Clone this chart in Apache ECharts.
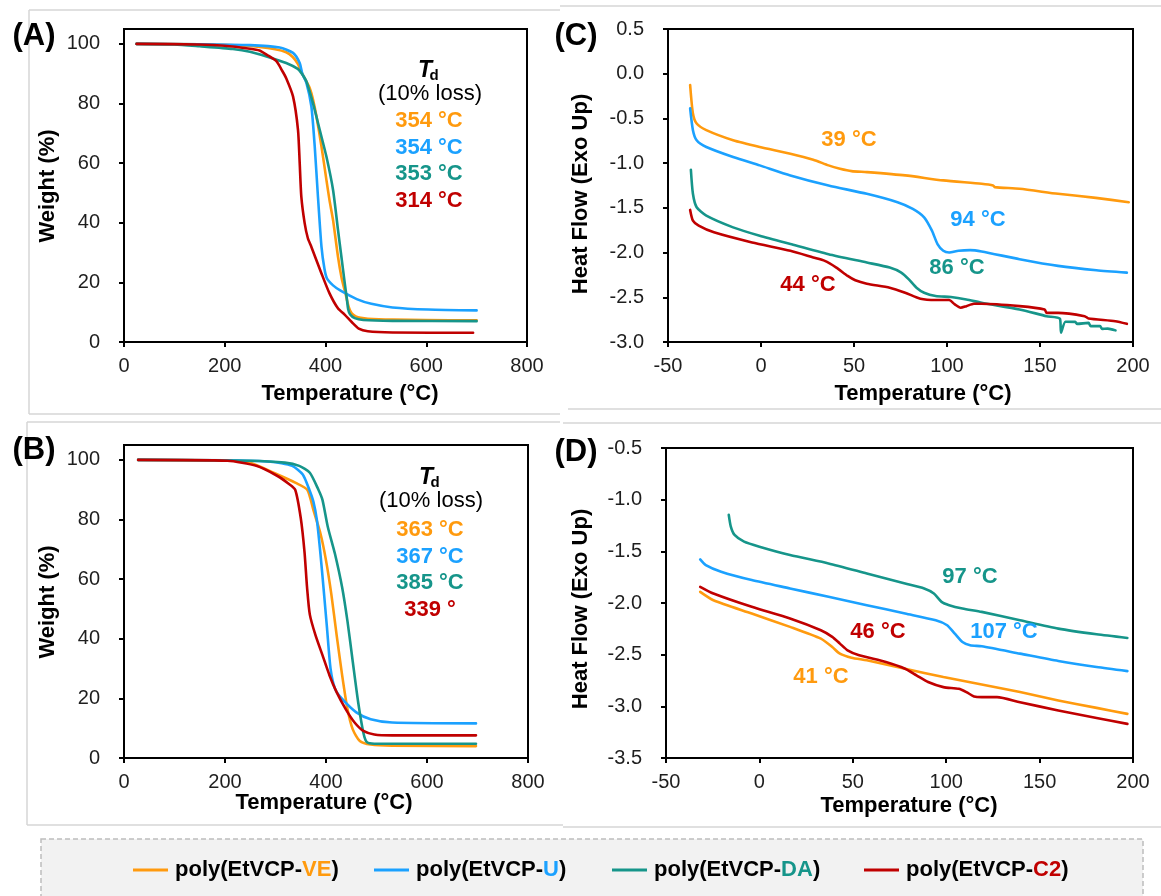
<!DOCTYPE html>
<html>
<head>
<meta charset="utf-8">
<title>TGA / DSC of poly(EtVCP) networks</title>
<script src="https://cdn.jsdelivr.net/npm/echarts@6/dist/echarts.min.js"></script>
<style>
  html, body { margin: 0; padding: 0; background: #fff; }
  #chart { width: 1161px; height: 896px; }
</style>
</head>
<body>
<div id="chart"></div>
<script>
// ---- Series names (legend) ----
const seriesNames = ['poly(EtVCP-VE)', 'poly(EtVCP-U)', 'poly(EtVCP-DA)', 'poly(EtVCP-C2)'];
const seriesTags = ['VE', 'U', 'DA', 'C2'];

// ---- (A) TGA, weight (%) vs temperature (°C) ----
const tgaA_VE = [[25,100],[150,99.9],[250,99.3],[300,98.2],[322,97.2],[335,95.6],[345,93.3],[354,90.0],[362,87.4],[368.6,85.2],[375,81.5],[382,75.7],[392,65.6],[401.8,54.4],[408,47.5],[415,40.9],[424.8,28.6],[432,21.5],[440,16.0],[446,11.8],[452,9.6],[460,8.6],[470,8.1],[484,7.8],[533,7.5],[600,7.35],[700,7.3]];
const tgaA_U  = [[25,100],[150,99.9],[250,99.6],[309,98.8],[335.5,97.0],[348.8,93.6],[354,90.0],[362,87.0],[372,79.0],[378.6,65.6],[385,48.8],[392,32.0],[398,24.5],[403,21.3],[415,19.0],[430,17.2],[462,14.4],[491,12.8],[533,11.6],[604,10.9],[700,10.6]];
const tgaA_DA = [[25,100],[100,99.8],[150,99.2],[216,98.3],[250,97.4],[283,95.8],[322,93.6],[345,91.6],[353,90.0],[362,87.5],[375,80.2],[388.5,71.2],[401.8,62.2],[415,51.0],[424.8,37.6],[432,28.0],[438,20.0],[442,15.0],[445,11.0],[449,9.2],[458,8.0],[475,7.4],[533,7.1],[700,7.0]];
const tgaA_C2 = [[25,100],[150,99.8],[200,99.4],[250,98.4],[269,97.8],[285,96.2],[302.5,94.2],[314,91.0],[322,88.5],[335.5,82.4],[345.4,71.2],[348.8,60.0],[352,48.8],[358.7,39.8],[365,34.8],[372,31.9],[392,23.0],[408,16.3],[425,11.2],[438,9.2],[452,6.7],[466,4.5],[484,3.6],[533,3.2],[693,3.1]];

// ---- (B) TGA ----
const tgaB_VE = [[28,100],[200,99.8],[248,99.1],[304,95.1],[340,92.3],[363,90.0],[375,83.2],[389,75.3],[400,66.3],[410.6,54.9],[421,41.3],[432,27.7],[442.5,16.4],[453,9.6],[467,5.7],[488.5,4.5],[531,4.1],[697,4.0]];
const tgaB_U  = [[28,100],[200,99.9],[290,99.4],[333,98.0],[354,95.1],[367,90.0],[375,86.0],[382,79.8],[389,68.5],[395,57.2],[402,43.6],[409,30.0],[418,23.2],[432,19.8],[460,15.3],[488.5,13.0],[531,11.9],[697,11.6]];
const tgaB_DA = [[28,100],[248,99.7],[318.6,99.1],[347,98.0],[368,95.7],[385,90.0],[393,86.6],[403.5,77.6],[417.7,68.5],[432,57.2],[442.5,45.9],[453,32.3],[463.7,18.7],[474,8.5],[481,5.3],[495.6,4.8],[531,4.8],[697,4.8]];
const tgaB_C2 = [[28,100],[205,99.7],[262,98.0],[304,94.6],[326,92.0],[339,90.0],[350,80.5],[357.5,69.0],[362.5,57.2],[368,48.1],[379,41.3],[393,34.5],[407,27.7],[421,22.1],[439,16.4],[456.6,11.9],[474,9.1],[495.6,7.9],[531,7.6],[697,7.6]];

// ---- (C) DSC, heat flow (exo up) vs temperature (°C) ----
const dscC_VE = [[-38.1,-0.126],[-36.6,-0.444],[-34.6,-0.557],[-29.4,-0.631],[-15,-0.744],[-0.7,-0.819],[15.8,-0.894],[28.1,-0.961],[36.3,-1.025],[42.5,-1.062],[48.7,-1.089],[56.9,-1.1],[77.5,-1.137],[98,-1.193],[118.6,-1.231],[124.8,-1.25],[125.8,-1.268],[139,-1.287],[159.7,-1.343],[180,-1.388],[197.7,-1.437]];
const dscC_U  = [[-38.1,-0.388],[-36.6,-0.631],[-34.6,-0.744],[-29.4,-0.819],[-15,-0.931],[-0.7,-1.025],[15.8,-1.137],[36.3,-1.25],[56.9,-1.343],[73.4,-1.437],[81.6,-1.512],[87.7,-1.606],[91.9,-1.755],[94.9,-1.905],[98,-1.98],[101.1,-1.999],[106.2,-1.98],[112.4,-1.973],[118.6,-1.988],[139,-2.074],[159.7,-2.149],[180.3,-2.198],[196.7,-2.224]];
const dscC_DA = [[-37.7,-1.074],[-36.6,-1.343],[-34.6,-1.493],[-29.4,-1.587],[-15,-1.718],[-0.7,-1.812],[15.8,-1.905],[36.3,-2.018],[56.9,-2.111],[69.2,-2.168],[75.4,-2.224],[79.5,-2.299],[83.6,-2.393],[87.7,-2.449],[93.9,-2.486],[102.1,-2.497],[110.4,-2.524],[118.6,-2.561],[139,-2.636],[153.5,-2.711],[160.7,-2.74],[161.3,-2.896],[163.7,-2.773],[168.9,-2.775],[170,-2.797],[176.1,-2.786],[177.2,-2.823],[182.3,-2.823],[183.4,-2.853],[186.4,-2.85],[190.6,-2.87]];
const dscC_C2 = [[-38.1,-1.523],[-36.6,-1.643],[-33.5,-1.699],[-25.3,-1.774],[-4.8,-1.887],[15.8,-1.98],[28.1,-2.055],[34.3,-2.093],[40.5,-2.168],[46.6,-2.261],[50.7,-2.31],[56.9,-2.348],[69.2,-2.393],[77.5,-2.449],[85.7,-2.516],[93.9,-2.531],[101.1,-2.531],[104.2,-2.58],[107.3,-2.617],[110.4,-2.599],[114.5,-2.572],[118.6,-2.572],[139,-2.599],[152.5,-2.636],[153.5,-2.674],[159.7,-2.674],[174,-2.711],[176.1,-2.737],[190.5,-2.767],[196.7,-2.797]];

// ---- (D) DSC ----
const dscD_VE = [[-31.7,-1.892],[-24.6,-1.973],[-4.1,-2.102],[16.4,-2.231],[32.9,-2.345],[39,-2.426],[43.1,-2.49],[49.3,-2.529],[57.5,-2.555],[78,-2.636],[98.5,-2.717],[119,-2.788],[139.5,-2.862],[160,-2.943],[180.5,-3.015],[197,-3.073]];
const dscD_U  = [[-31.7,-1.578],[-28.7,-1.633],[-20.5,-1.697],[-4.1,-1.778],[16.4,-1.859],[37,-1.94],[57.5,-2.021],[78,-2.102],[94.4,-2.167],[100.5,-2.215],[104.6,-2.296],[108.7,-2.377],[112.8,-2.409],[119,-2.419],[139.5,-2.49],[160,-2.561],[180.5,-2.62],[197,-2.659]];
const dscD_DA = [[-16.4,-1.147],[-15.3,-1.26],[-13.3,-1.341],[-8.2,-1.406],[0,-1.455],[16.4,-1.536],[37,-1.617],[57.5,-1.714],[78,-1.811],[88.2,-1.859],[93.4,-1.908],[97.5,-1.989],[101.6,-2.021],[108.7,-2.053],[119,-2.086],[139.5,-2.167],[160,-2.248],[180.5,-2.303],[197,-2.338]];
const dscD_C2 = [[-31.7,-1.843],[-24.6,-1.908],[-4.1,-2.037],[16.4,-2.15],[32.9,-2.264],[39,-2.328],[43.1,-2.393],[47.2,-2.458],[53.4,-2.506],[67.7,-2.571],[78,-2.636],[84.1,-2.7],[90.3,-2.765],[98.5,-2.814],[106.7,-2.83],[110.8,-2.862],[114.9,-2.904],[119,-2.911],[127.2,-2.911],[139.5,-2.96],[160,-3.04],[180.5,-3.112],[197,-3.17]];

// ---- Annotation texts ----
const tdLabelsA = ['354 °C', '354 °C', '353 °C', '314 °C'];
const tdLabelsB = ['363 °C', '367 °C', '385 °C', '339 °'];
const tgLabelsC = ['39 °C', '94 °C', '86 °C', '44 °C'];
const tgLabelsD = ['41 °C', '107 °C', '97 °C', '46 °C'];

// ---- Axis tick values ----
const tgaYTicks = [0, 20, 40, 60, 80, 100];

// ---- Styling ----
const FONT = '"Liberation Sans", Arial, Helvetica, sans-serif';
const COLORS = ['#FF9A0E', '#1BA1FF', '#16958A', '#C00000'];
const AXIS_COLOR = '#000';
const LABEL_COLOR = '#1e1e1e';
const TEXT_SIZE = 22;

const chart = echarts.init(document.getElementById('chart'), null, { renderer: 'canvas' });

// plot rectangles (pixels)
const grids = [
  { left: 124, top: 29, width: 403, height: 313 },   // A
  { left: 668, top: 29, width: 465, height: 313 },   // C
  { left: 124, top: 445, width: 404, height: 313 },  // B
  { left: 666, top: 448, width: 467, height: 310 }   // D
];

function axisCommon() {
  return {
    axisLine: { show: true, onZero: false, lineStyle: { color: AXIS_COLOR, width: 2 } },
    axisTick: { show: true, inside: false, length: 5, lineStyle: { color: AXIS_COLOR, width: 2 } },
    splitLine: { show: false },
    axisLabel: { color: LABEL_COLOR, fontSize: 20, fontFamily: FONT }
  };
}

function tgaX(gi) {
  const a = axisCommon();
  return Object.assign(a, {
    type: 'value', gridIndex: gi, min: 0, max: 800, interval: 200,
    axisLabel: Object.assign(a.axisLabel, { margin: 14 })
  });
}
function tgaY(gi) {
  const a = axisCommon();
  return Object.assign(a, {
    type: 'value', gridIndex: gi, min: 0, max: 105, interval: 20,
    axisTick: Object.assign(a.axisTick, { customValues: tgaYTicks }),
    axisLabel: Object.assign(a.axisLabel, { margin: 24, customValues: tgaYTicks })
  });
}
function dscX(gi) {
  const a = axisCommon();
  return Object.assign(a, {
    type: 'value', gridIndex: gi, min: -50, max: 200, interval: 50,
    axisLabel: Object.assign(a.axisLabel, { margin: 14 })
  });
}
function dscY(gi, min, max) {
  const a = axisCommon();
  return Object.assign(a, {
    type: 'value', gridIndex: gi, min: min, max: max, interval: 0.5,
    axisLabel: Object.assign(a.axisLabel, { margin: 24, formatter: v => v.toFixed(1) })
  });
}

const panelData = [
  [tgaA_VE, tgaA_U, tgaA_DA, tgaA_C2],
  [dscC_VE, dscC_U, dscC_DA, dscC_C2],
  [tgaB_VE, tgaB_U, tgaB_DA, tgaB_C2],
  [dscD_VE, dscD_U, dscD_DA, dscD_C2]
];

const series = [];
panelData.forEach((group, gi) => {
  group.forEach((data, si) => {
    series.push({
      type: 'line', name: seriesNames[si], xAxisIndex: gi, yAxisIndex: gi,
      data: data, showSymbol: false, smooth: 0.22,
      lineStyle: { color: COLORS[si], width: 2.6, join: 'round', cap: 'round' },
      itemStyle: { color: COLORS[si] },
      emphasis: { disabled: true }, animation: false, z: si === 3 ? 3 : 2
    });
  });
});

// text helpers
function txt(x, y, text, opts) {
  opts = opts || {};
  return {
    type: 'text', x: x, y: y, rotation: opts.rotation || 0, z: 10,
    style: {
      text: text, fill: opts.color || '#000',
      font: (opts.style || '') + ' ' + (opts.weight || 'bold') + ' ' + (opts.size || TEXT_SIZE) + 'px ' + FONT,
      align: opts.align || 'center', verticalAlign: 'middle',
      textAlign: opts.align || 'center', textVerticalAlign: 'middle'
    }
  };
}
function line(x1, y1, x2, y2, color, w, dash) {
  return { type: 'line', z: -5, shape: { x1: x1, y1: y1, x2: x2, y2: y2 },
           style: { stroke: color, lineWidth: w, lineDash: dash || null } };
}

const graphics = [];
// faint frames of the four sub-figures
const FR = '#d6d6d6';
graphics.push(line(29, 10, 560, 10, FR, 1.5), line(29, 10, 29, 414, FR, 1.5), line(29, 414, 560, 414, FR, 1.5));
graphics.push(line(560, 6, 1161, 6, FR, 1.5), line(568, 409, 1161, 409, FR, 1.5));
graphics.push(line(27, 422, 560, 422, FR, 1.5), line(27, 422, 27, 825, FR, 1.5), line(27, 825, 563, 825, FR, 1.5));
graphics.push(line(563, 423, 1161, 423, FR, 1.5), line(563, 827, 1161, 827, FR, 1.5));

// panel letters
graphics.push(txt(34, 36, '(A)', { size: 31 }), txt(576, 36, '(C)', { size: 31 }),
              txt(34, 450, '(B)', { size: 31 }), txt(576, 452, '(D)', { size: 31 }));

// axis titles
graphics.push(
  txt(350, 394, 'Temperature (°C)'), txt(923, 394, 'Temperature (°C)'),
  txt(324, 803, 'Temperature (°C)'), txt(909, 806, 'Temperature (°C)'),
  txt(48, 186, 'Weight (%)', { rotation: Math.PI / 2 }),
  txt(48, 602, 'Weight (%)', { rotation: Math.PI / 2 }),
  txt(581, 194, 'Heat Flow (Exo Up)', { rotation: Math.PI / 2 }),
  txt(581, 609, 'Heat Flow (Exo Up)', { rotation: Math.PI / 2 })
);

// decomposition temperature blocks
function tdBlock(cx, yT, labels, yStart) {
  graphics.push(txt(cx - 4, yT, 'T', { style: 'italic', size: 23 }));
  graphics.push(txt(cx + 5, yT + 5, 'd', { size: 15 }));
  graphics.push(txt(cx + 1, yT + 23.5, '(10% loss)', { weight: 'normal' }));
  labels.forEach((s, i) => graphics.push(txt(cx, yStart + i * 26.7, s, { color: COLORS[i] })));
}
tdBlock(429, 70.5, tdLabelsA, 121);
tdBlock(430, 477.5, tdLabelsB, 530);

// glass transition labels
const posC = [[849, 140], [978, 220], [957, 268], [808, 285]];
const posD = [[821, 677], [1004, 632], [970, 577], [878, 632]];
tgLabelsC.forEach((s, i) => graphics.push(txt(posC[i][0], posC[i][1], s, { color: COLORS[i] })));
tgLabelsD.forEach((s, i) => graphics.push(txt(posD[i][0], posD[i][1], s, { color: COLORS[i] })));

// legend frame
graphics.push({ type: 'rect', z: -4, shape: { x: 41, y: 839, width: 1102, height: 80 },
  style: { fill: '#f2f2f2', stroke: '#bdbdbd', lineWidth: 1.5, lineDash: [5, 3] } });

const legendLeft = [133, 374, 612, 864];
const richTags = {};
seriesTags.forEach((t, i) => {
  richTags['c' + i] = { color: COLORS[i], fontWeight: 'bold', fontSize: TEXT_SIZE, fontFamily: FONT };
});
const legends = seriesNames.map((name, i) => ({
  data: [name], left: legendLeft[i], top: 859, orient: 'horizontal',
  icon: 'rect', itemWidth: 35, itemHeight: 3, itemGap: 0, padding: 0,
  selectedMode: false,
  formatter: () => 'poly(EtVCP-{c' + i + '|' + seriesTags[i] + '})',
  textStyle: { color: '#000', fontWeight: 'bold', fontSize: TEXT_SIZE, fontFamily: FONT, padding: [0, 0, 0, 2], rich: richTags }
}));

chart.setOption({
  backgroundColor: '#ffffff',
  animation: false,
  grid: grids.map(g => Object.assign({ show: true, borderColor: AXIS_COLOR, borderWidth: 2, backgroundColor: 'transparent' }, g)),
  xAxis: [tgaX(0), dscX(1), tgaX(2), dscX(3)],
  yAxis: [tgaY(0), dscY(1, -3, 0.5), tgaY(2), dscY(3, -3.5, -0.5)],
  legend: legends,
  series: series,
  graphic: { elements: graphics }
});
</script>
</body>
</html>
